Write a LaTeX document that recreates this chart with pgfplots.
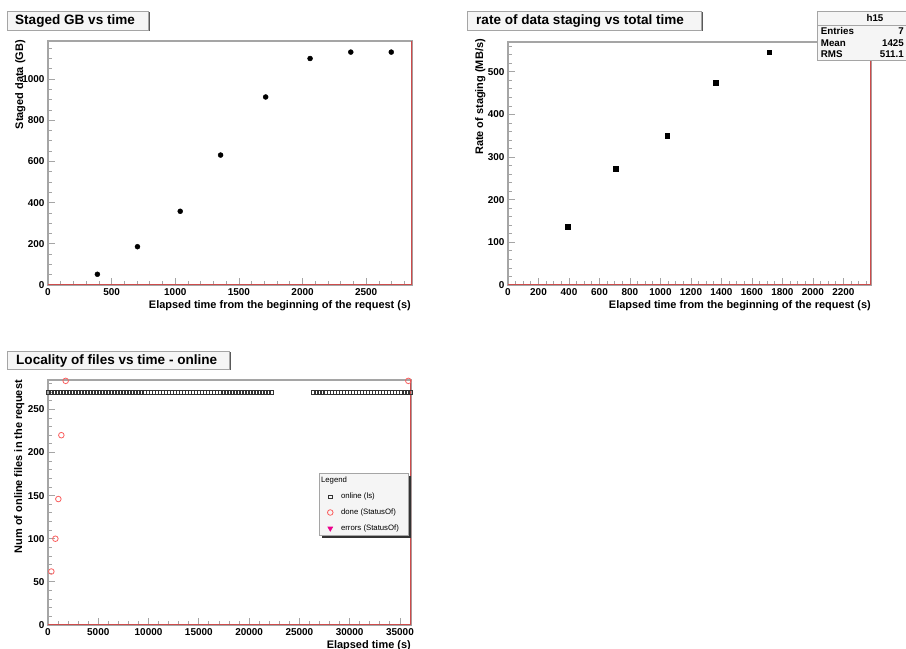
\documentclass[border=0pt]{standalone}
\usepackage{fontspec}
\setmainfont{Liberation Sans}
\usepackage{pgfplots}
\pgfplotsset{compat=1.18}
\usetikzlibrary{shadows}

\definecolor{rootred}{RGB}{205,75,75}
\definecolor{framegray}{RGB}{165,165,165}
\definecolor{mkred}{RGB}{250,95,95}
\definecolor{boxfill}{RGB}{245,245,245}

\pgfplotsset{rootax/.style={
  scale only axis, anchor=south west,
  axis line style={framegray, line width=1.1bp},
  tick style={framegray, line width=0.8bp},
  tick align=inside, tick pos=left,
  major tick length=7bp, minor tick length=3.5bp,
  scaled ticks=false,
  /pgf/number format/assume math mode=true,
  /pgf/number format/set thousands separator={},
  ticklabel style={font=\fontsize{10}{11}\selectfont\bfseries, text=black},
}}
\tikzset{lab/.style={font=\fontsize{11}{12}\selectfont\bfseries, inner sep=0pt},
  ttl/.style={font=\fontsize{13.6}{15}\selectfont\bfseries, inner sep=0pt, anchor=base west}}

\begin{document}
\begin{tikzpicture}[x=1bp,y=1bp]
\path[use as bounding box, fill=white] (0,0) rectangle (906,649);

% ---------------- panel 1 ----------------
\begin{axis}[rootax, at={(48bp,364bp)}, width=364bp, height=244bp,
  xmin=0, xmax=2860, ymin=0, ymax=1185,
  xtick={0,500,...,3000}, minor x tick num=4,
  ytick={0,200,...,1200}, minor y tick num=3]
\addplot[only marks, mark=*, mark size=2.5bp, black] coordinates {
  (388,52) (703,186) (1039,358) (1356,631) (1710,913) (2059,1100) (2379,1131) (2697,1131)};
\draw[rootred, line width=1.2bp] (rel axis cs:0,0) -- (rel axis cs:1,0) -- (rel axis cs:1,1);
\end{axis}
\node[lab, anchor=base east] at (411,340.5) {Elapsed time from the beginning of the request (s)};
\node[lab, rotate=90, anchor=base east] at (23,609) {Staged data (GB)};
\fill[black!65] (8.5,617.5) rectangle (149.5,636.5);
\filldraw[fill=boxfill, draw=framegray, line width=0.8bp] (7,619) rectangle (148,638);
\node[ttl] at (15,624) {Staged GB vs time};

% ---------------- panel 2 ----------------
\begin{axis}[rootax, at={(508bp,364bp)}, width=363bp, height=243bp,
  xmin=0, xmax=2381, ymin=0, ymax=570,
  xtick={0,200,...,2400}, minor x tick num=3,
  ytick={0,100,...,600}, minor y tick num=4]
\addplot[only marks, mark=square*, mark size=2.4bp, black] coordinates {
  (389,137.5) (707,272.7) (1044,351) (1361,474) (1713,546)};
\draw[rootred, line width=1.2bp] (rel axis cs:0,0) -- (rel axis cs:1,0) -- (rel axis cs:1,1);
\end{axis}
\node[lab, anchor=base east] at (871,340.5) {Elapsed time from the beginning of the request (s)};
\node[lab, rotate=90, anchor=base east] at (483,610) {Rate of staging (MB/s)};
\fill[black!65] (468.5,617.5) rectangle (702.5,636.5);
\filldraw[fill=boxfill, draw=framegray, line width=0.8bp] (467,619) rectangle (701,638);
\node[ttl] at (476,624) {rate of data staging vs total time};
% stats box
\fill[black!65] (818.5,587.5) rectangle (912,636.5);
\filldraw[fill=boxfill, draw=framegray, line width=0.8bp] (817,589) rectangle (910,638);
\draw[framegray, line width=0.8bp] (817,624) -- (910,624);
\begin{scope}[every node/.style={font=\fontsize{9.8}{11}\selectfont\bfseries, inner sep=0pt}]
\node[anchor=base] at (875,627.5) {h15};
\node[anchor=base west] at (820.7,614.7) {Entries};
\node[anchor=base east] at (904,614.7) {7};
\node[anchor=base west] at (820.7,602.3) {Mean};
\node[anchor=base east] at (904,602.3) {1425};
\node[anchor=base west] at (820.7,591.7) {RMS};
\node[anchor=base east] at (904,591.7) {511.1};
\end{scope}

% ---------------- panel 3 ----------------
\begin{axis}[rootax, at={(48bp,24bp)}, width=363bp, height=245bp,
  xmin=0, xmax=36100, ymin=0, ymax=284,
  xtick={0,5000,...,35000}, minor x tick num=4,
  ytick={0,50,...,300}, minor y tick num=4,
  legend style={at={(rel axis cs:0.994,0.62)}, anchor=north east,
    draw=framegray, fill=boxfill, line width=0.8bp,
    font=\fontsize{7.8}{9}\selectfont,
    inner xsep=8bp, inner ysep=2bp, row sep=5.5bp,
    /tikz/every odd column/.append style={column sep=6.5bp},
    drop shadow={shadow xshift=2.5bp, shadow yshift=-2.5bp, fill=black!80, opacity=1},
    cells={anchor=west},
    nodes={inner sep=1.5bp, text height=5.8bp, text depth=1.6bp}},
  legend cell align=left,
  legend image code/.code={\draw[#1] plot coordinates {(0bp,0bp)};}]
\addlegendimage{legend image code/.code={}}
\addlegendentry{\hspace{-20bp}Legend}
\addplot[only marks, mark=square, mark size=1.8bp, black!80, line width=0.5bp] coordinates {
  (0,270) (300,270) (600,270) (900,270) (1200,270) (1500,270) (1800,270) (2100,270) (2400,270) (2700,270)
  (3000,270) (3300,270) (3600,270) (3900,270) (4200,270) (4500,270) (4800,270) (5100,270) (5400,270) (5700,270)
  (6000,270) (6300,270) (6600,270) (6900,270) (7200,270) (7500,270) (7800,270) (8100,270) (8400,270) (8700,270)
  (9000,270) (9300,270) (9600,270) (9900,270) (10200,270) (10500,270) (10800,270) (11100,270) (11400,270) (11700,270)
  (12000,270) (12300,270) (12600,270) (12900,270) (13200,270) (13500,270) (13800,270) (14100,270) (14400,270) (14700,270)
  (15000,270) (15300,270) (15600,270) (15900,270) (16200,270) (16500,270) (16800,270) (17100,270) (17400,270) (17700,270)
  (18000,270) (18300,270) (18600,270) (18900,270) (19200,270) (19500,270) (19800,270) (20100,270) (20400,270) (20700,270)
  (21000,270) (21300,270) (21600,270) (21900,270) (22200,270)
  (26400,270) (26700,270) (27000,270) (27300,270) (27600,270) (27900,270) (28200,270) (28500,270) (28800,270) (29100,270)
  (29400,270) (29700,270) (30000,270) (30300,270) (30600,270) (30900,270) (31200,270) (31500,270) (31800,270) (32100,270)
  (32400,270) (32700,270) (33000,270) (33300,270) (33600,270) (33900,270) (34200,270) (34500,270) (34800,270) (35100,270)
  (35400,270) (35700,270) (36000,270)};
\addlegendentry{online (ls)}
\addplot[only marks, mark=o, mark size=2.8bp, mkred, line width=0.8bp] coordinates {
  (332,62) (733,100) (1029,146) (1327,220) (1758,283) (35833,283)};
\addlegendentry{done (StatusOf)}
\addlegendimage{only marks, mark=triangle*, mark size=2.6bp, mark options={rotate=180}, magenta}
\addlegendentry{errors (StatusOf)}
\draw[rootred, line width=1.2bp] (rel axis cs:0,0) -- (rel axis cs:1,0) -- (rel axis cs:1,1);
\end{axis}
\node[lab, anchor=base east] at (411,0.7) {Elapsed time (s)};
\node[lab, rotate=90, anchor=base east] at (22,269) {Num of online files in the request};
\fill[black!65] (8.5,278.5) rectangle (230.5,296.5);
\filldraw[fill=boxfill, draw=framegray, line width=0.8bp] (7,280) rectangle (229,298);
\node[ttl] at (16,284) {Locality of files vs time - online};
\end{tikzpicture}
\end{document}
